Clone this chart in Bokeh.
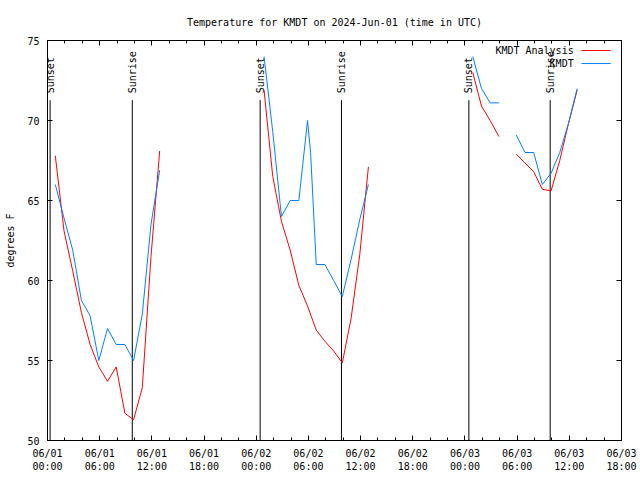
import math
from bokeh.plotting import figure
from bokeh.models import FixedTicker, LinearAxis, Range1d
from bokeh.core.properties import value
from bokeh.embed import file_html
from bokeh.resources import INLINE

FONT = "DejaVu Sans Mono"
NaN = float("nan")

# hours since 2024-06-01 00:00 UTC
analysis_hours = [0.9, 1.9, 2.9, 3.9, 4.9, 5.9, 6.9, 7.9, 8.9, 9.9, 10.9, 11.9, 12.9, NaN,
                  24.9, 25.9, 26.9, 27.9, 28.9, 29.9, 30.9, 31.9, 32.9, 33.9, 34.9, 35.9, 36.9, NaN,
                  48.9, 49.9, 50.9, 51.9, NaN,
                  53.9, 54.9, 55.9, 56.9, 57.9, 58.9, 59.9, 60.9]
analysis_temps = [67.8, 63.1, 60.6, 58.0, 56.0, 54.6, 53.7, 54.6, 51.7, 51.3, 53.3, 61.5, 68.1, NaN,
                  71.9, 66.5, 63.7, 61.9, 59.7, 58.4, 56.9, 56.2, 55.6, 54.85, 57.6, 61.6, 67.1, NaN,
                  73.0, 70.9, 70.0, 69.0, NaN,
                  67.9, 67.35, 66.8, 65.7, 65.6, 67.5, 69.8, 71.9]

obs_hours = [0.9, 1.9, 2.9, 3.9, 4.9, 5.9, 6.9, 7.9, 8.9, 9.9, 10.9, 11.9, 12.9, NaN,
             24.9, 25.9, 26.9, 27.9, 28.9, 29.9, 30.25, 30.9, 31.9, 32.9, 33.9, 34.9, 35.9, 36.9, NaN,
             48.9, 49.9, 50.9, 51.9, NaN,
             53.9, 54.9, 55.9, 56.9, 57.9, 58.9, 59.9, 60.9]
obs_temps = [66.0, 63.9, 61.9, 58.75, 57.8, 55.0, 57.0, 56.0, 56.0, 55.0, 57.9, 63.5, 66.9, NaN,
             74.0, 69.3, 64.0, 65.0, 65.0, 70.0, 68.0, 61.0, 61.0, 60.0, 59.0, 61.3, 63.8, 66.0, NaN,
             74.0, 72.0, 71.1, 71.1, NaN,
             69.1, 68.0, 68.0, 66.0, 66.7, 68.0, 69.8, 72.0]

x_ticks = [0, 6, 12, 18, 24, 30, 36, 42, 48, 54, 60, 66]
x_minor = [h for h in range(0, 67, 2)]
x_tick_labels = ["06/01\n00:00", "06/01\n06:00", "06/01\n12:00", "06/01\n18:00",
                 "06/02\n00:00", "06/02\n06:00", "06/02\n12:00", "06/02\n18:00",
                 "06/03\n00:00", "06/03\n06:00", "06/03\n12:00", "06/03\n18:00"]
y_ticks = [50, 55, 60, 65, 70, 75]

sun_names = ["Sunset", "Sunrise", "Sunset", "Sunrise", "Sunset", "Sunrise"]
sun_hours = [0.3, 9.75, 24.45, 33.8, 48.45, 57.8]

series_names = ["KMDT Analysis", "KMDT"]
series_colors = ["#ff0000", "#0080ff"]

p = figure(width=640, height=480, x_range=Range1d(0, 66), y_range=Range1d(50, 75),
           output_backend="svg", toolbar_location=None,
           min_border_left=47, min_border_right=19, min_border_top=40, min_border_bottom=40)
p.grid.visible = False
p.outline_line_color = "black"
p.background_fill_color = "white"
p.border_fill_color = "white"

p.title.text = "Temperature for KMDT on 2024-Jun-01 (time in UTC)"
p.title.align = "center"
p.title.text_font = FONT
p.title.text_font_size = "10px"
p.title.text_font_style = "normal"
p.title.text_color = "black"
p.title.standoff = 26

xt = FixedTicker(ticks=x_ticks, minor_ticks=x_minor)
yt = FixedTicker(ticks=y_ticks, minor_ticks=[])

xa = p.xaxis[0]
xa.ticker = xt
xa.major_label_overrides = {t: l for t, l in zip(x_ticks, x_tick_labels)}
ya = p.yaxis[0]
ya.ticker = yt
ya.axis_label = "degrees F"

for ax in (xa, ya):
    ax.major_label_text_font = FONT
    ax.major_label_text_font_size = "10px"
    ax.major_label_text_color = "black"
    ax.axis_label_text_font = FONT
    ax.axis_label_text_font_size = "10px"
    ax.axis_label_text_font_style = "normal"
    ax.axis_label_text_color = "black"
    ax.axis_line_color = "black"
    ax.major_tick_line_color = "black"
    ax.minor_tick_line_color = "black"
    ax.major_tick_in = 5
    ax.major_tick_out = 0
    ax.minor_tick_in = 3
    ax.minor_tick_out = 0
xa.major_label_standoff = 7
ya.major_label_standoff = 8
ya.axis_label_standoff = 8

top = LinearAxis(ticker=FixedTicker(ticks=x_ticks, minor_ticks=x_minor))
top.major_label_overrides = {t: "" for t in x_ticks}
right = LinearAxis(ticker=FixedTicker(ticks=y_ticks, minor_ticks=[]))
right.major_label_overrides = {t: "" for t in y_ticks}
for ax in (top, right):
    ax.major_label_text_font_size = "10px"
    ax.major_label_standoff = 0
    ax.major_tick_in = 5
    ax.major_tick_out = 0
    ax.minor_tick_in = 3
    ax.minor_tick_out = 0
    ax.axis_line_color = "black"
p.add_layout(top, "above")
p.add_layout(right, "right")

# sunrise / sunset markers
p.segment(x0=sun_hours, y0=[50] * len(sun_hours), x1=sun_hours, y1=[71.27] * len(sun_hours),
          line_color="black", line_width=1)
p.text(x=sun_hours, y=[71.7] * len(sun_hours), text=sun_names, angle=math.pi / 2,
       text_align="left", text_baseline="middle", text_font=value(FONT),
       text_font_size="10px", text_color="black")

p.line(analysis_hours, analysis_temps, line_color=series_colors[0], line_width=1)
p.line(obs_hours, obs_temps, line_color=series_colors[1], line_width=1)

# legend, gnuplot style: label then sample line
leg_y = [74.375, 73.56]
p.text(x=[60.5, 60.5], y=leg_y, text=series_names, text_align="right", text_baseline="middle",
       text_font=value(FONT), text_font_size="10px", text_color="black")
p.segment(x0=[61.4, 61.4], y0=leg_y, x1=[64.75, 64.75], y1=leg_y,
          line_color=series_colors, line_width=1)

open("out.html", "w").write(file_html(p, INLINE))
